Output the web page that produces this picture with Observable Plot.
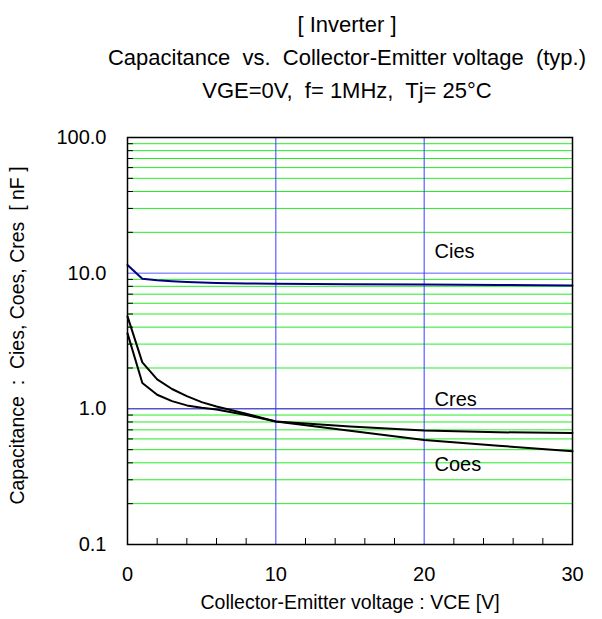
<!DOCTYPE html>
<html>
<head>
<meta charset="utf-8">
<script src="https://cdn.jsdelivr.net/npm/d3@7"></script>
<script src="https://cdn.jsdelivr.net/npm/@observablehq/plot@0.6"></script>
<style>
  body { margin: 0; background: #fff; font-family: "Liberation Sans", Arial, sans-serif; }
  #wrap { position: relative; width: 602px; height: 619px; }
  .t { position: absolute; left: 47px; width: 600px; text-align: center; font-size: 22px; white-space: pre; color: #000; line-height: 1; }
  svg { white-space: pre; }
</style>
</head>
<body>
<div id="wrap">
  <div class="t" style="top:14px">[ Inverter ]</div>
  <div class="t" style="top:47px">Capacitance  vs.  Collector-Emitter voltage  (typ.)</div>
  <div class="t" style="top:80px">VGE=0V,  f= 1MHz,  Tj= 25°C</div>
</div>
<script>
// Data
const vce = [0, 1, 2, 3, 4, 5, 6, 8, 10, 15, 20, 25, 30];
const cies = [11.5, 9.1, 8.85, 8.7, 8.6, 8.53, 8.48, 8.4, 8.35, 8.3, 8.25, 8.18, 8.11];
const coes = [4.8, 2.2, 1.65, 1.40, 1.24, 1.12, 1.04, 0.92, 0.806, 0.69, 0.59, 0.535, 0.486];
const cres = [3.6, 1.55, 1.27, 1.14, 1.06, 1.02, 0.99, 0.90, 0.806, 0.74, 0.693, 0.672, 0.663];

const xTicks = [0, 10, 20, 30];
const xMinor = [2, 4, 6, 8, 12, 14, 16, 18, 22, 24, 26, 28];
const yTicks = [0.1, 1, 10, 100];
const yMinor = [0.2,0.3,0.4,0.5,0.6,0.7,0.8,0.9, 2,3,4,5,6,7,8,9, 20,30,40,50,60,70,80,90];

const seriesLabels = ["Cies", "Cres", "Coes"];
const labelX = [20.7, 20.7, 20.7];
const labelY = [14.3, 1.16, 0.39];

const toRows = (ys) => vce.map((v, i) => ({x: v, y: ys[i]}));

const font = `"Liberation Sans", Arial, sans-serif`;

const chart = Plot.plot({
  width: 602,
  height: 619,
  marginTop: 137,
  marginBottom: 75,
  marginLeft: 127,
  marginRight: 30,
  style: {fontFamily: font, fontSize: "20px", color: "#000", background: "transparent"},
  x: {type: "linear", domain: [0, 30]},
  y: {type: "log", domain: [0.1, 100]},
  marks: [
    Plot.ruleY(yMinor, {stroke: "#22ee22", strokeWidth: 1}),
    Plot.ruleY([10], {stroke: "#5a5aff", strokeWidth: 1}),
    Plot.ruleY([1], {stroke: "#0000b0", strokeWidth: 1}),
    Plot.ruleX([10, 20], {stroke: "#3c3cff", strokeWidth: 1}),
    Plot.ruleY(yMinor, {x1: 0, x2: 0.4, stroke: "#000", strokeWidth: 1}),
    Plot.ruleX(xMinor, {y1: 0.1, y2: 0.1 * Math.pow(10, 6 / 136), stroke: "#000", strokeWidth: 1}),
    Plot.line(toRows(cies), {x: "x", y: "y", stroke: "#000080", strokeWidth: 2}),
    Plot.line(toRows(coes), {x: "x", y: "y", stroke: "#000", strokeWidth: 2}),
    Plot.line(toRows(cres), {x: "x", y: "y", stroke: "#000", strokeWidth: 2}),
    Plot.frame({stroke: "#000", strokeWidth: 1.5}),
    Plot.axisX({ticks: xTicks, tickSize: 0, tickPadding: 22, label: null, fontSize: 20}),
    Plot.axisY({ticks: yTicks, tickSize: 0, tickPadding: 21, label: null, tickFormat: d3.format(".1f"), fontSize: 20}),
    Plot.text(seriesLabels, {x: (d, i) => labelX[i], y: (d, i) => labelY[i], text: d => d, textAnchor: "start", fontSize: 20}),
    Plot.text(["Collector-Emitter voltage : VCE [V]"], {frameAnchor: "bottom", dy: 64, fontSize: 19.5}),
    Plot.text(["Capacitance  :  Cies, Coes, Cres  [ nF ]"], {frameAnchor: "left", textAnchor: "middle", dx: -110, dy: -5.5, rotate: -90, fontSize: 19.5})
  ]
});
document.getElementById("wrap").prepend(chart);
</script>
</body>
</html>
